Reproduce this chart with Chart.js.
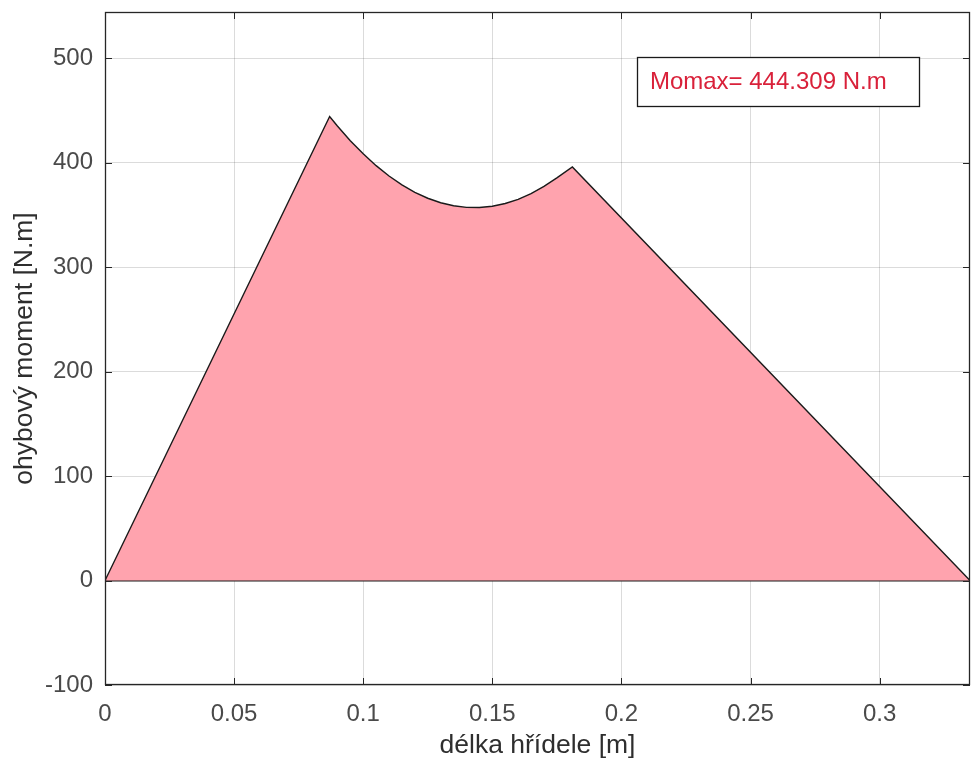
<!DOCTYPE html>
<html>
<head>
<meta charset="utf-8">
<script src="https://cdn.jsdelivr.net/npm/chart.js@4"></script>
<style>
  html, body { margin: 0; padding: 0; background: #fff; }
  #wrap { width: 971px; height: 762px; }
</style>
</head>
<body>
<div id="wrap"><canvas id="momentChart"></canvas></div>
<script>
// hodnoty
const xPos = [0, 0.087, 0.09, 0.095, 0.10, 0.105, 0.11, 0.115, 0.12, 0.125, 0.13, 0.135, 0.14, 0.145,
  0.15, 0.155, 0.16, 0.165, 0.17, 0.175, 0.181, 0.335];
const moment = [0, 444.3, 435.2, 421.1, 408.5, 397.2, 387.3, 378.8, 371.7, 366.0, 361.7, 358.8, 357.3, 357.1,
  358.4, 361.0, 365.0, 370.5, 377.3, 385.5, 396.0, 0];
const xTicks = [0, 0.05, 0.1, 0.15, 0.2, 0.25, 0.3];
const xLabels = ["0", "0.05", "0.1", "0.15", "0.2", "0.25", "0.3"];
const yTicks = [-100, 0, 100, 200, 300, 400, 500];
const momax = 444.309;

const FONT = "'Liberation Sans', Arial, sans-serif";
const GRID = "rgba(0,0,0,0.14)";

// tick marky dovnitř, rámeček a textový box
const matlabAxes = {
  id: "matlabAxes",
  afterDraw(chart) {
    const { ctx, chartArea: a, scales: { x, y } } = chart;
    ctx.save();
    ctx.strokeStyle = "#262626";
    ctx.lineWidth = 1;
    ctx.beginPath();
    xTicks.forEach(v => {
      const px = Math.round(x.getPixelForValue(v)) + 0.5;
      ctx.moveTo(px, a.bottom); ctx.lineTo(px, a.bottom - 7);
      ctx.moveTo(px, a.top); ctx.lineTo(px, a.top + 7);
    });
    yTicks.forEach(v => {
      const py = Math.round(y.getPixelForValue(v)) + 0.5;
      ctx.moveTo(a.left, py); ctx.lineTo(a.left + 7, py);
      ctx.moveTo(a.right, py); ctx.lineTo(a.right - 7, py);
    });
    ctx.stroke();
    ctx.lineWidth = 1.3;
    ctx.strokeRect(Math.round(a.left) + 0.5, Math.round(a.top) + 0.5,
      Math.round(a.right - a.left) - 1, Math.round(a.bottom - a.top) - 1);

    // Momax box
    const bx = x.getPixelForValue(0.206);
    const by = y.getPixelForValue(501);
    const bw = 282, bh = 49;
    ctx.fillStyle = "#fff";
    ctx.fillRect(bx, by, bw, bh);
    ctx.strokeStyle = "#1a1a1a";
    ctx.strokeRect(Math.round(bx) + 0.5, Math.round(by) + 0.5, bw, bh);
    ctx.fillStyle = "#d9213a";
    ctx.font = "24px " + FONT;
    ctx.textBaseline = "middle";
    ctx.fillText("Momax= " + momax + " N.m", bx + 13, by + bh / 2 + 1);
    ctx.restore();
  }
};

const zeroPadding = ax => {
  ax.paddingTop = 0; ax.paddingBottom = 0;
  ax.paddingLeft = 0; ax.paddingRight = 0;
};

new Chart(document.getElementById("momentChart"), {
  type: "line",
  data: {
    datasets: [{
      data: xPos.map((v, i) => ({ x: v, y: moment[i] })),
      borderColor: "#1a1a1a",
      borderWidth: 1.4,
      backgroundColor: "rgb(255,163,174)",
      fill: "origin",
      pointRadius: 0,
      tension: 0
    }]
  },
  options: {
    responsive: true,
    maintainAspectRatio: false,
    animation: false,
    layout: { padding: { top: 12, right: 1, left: 0, bottom: 0 } },
    plugins: { legend: { display: false }, tooltip: { enabled: false } },
    scales: {
      x: {
        type: "linear",
        min: 0,
        max: 0.335,
        z: 1,
        afterBuildTicks: ax => { ax.ticks = xTicks.map(v => ({ value: v })); },
        afterFit: ax => { ax.height = 77; zeroPadding(ax); },
        grid: { color: GRID, drawTicks: false },
        border: { display: false },
        ticks: {
          color: "#4a4a4a",
          font: { family: FONT, size: 24 },
          padding: 15,
          maxRotation: 0,
          callback: (v, i) => xLabels[i]
        },
        title: {
          display: true,
          text: "délka hřídele [m]",
          color: "#2e2e2e",
          font: { family: FONT, size: 26.5 },
          padding: { top: 0, bottom: 0 }
        }
      },
      y: {
        type: "linear",
        min: -100,
        max: momax + 100,
        z: 1,
        afterBuildTicks: ax => { ax.ticks = yTicks.map(v => ({ value: v })); },
        afterFit: ax => { ax.width = 105; zeroPadding(ax); },
        grid: {
          color: c => (c.tick && c.tick.value === 0 ? "#1a1a1a" : GRID),
          lineWidth: c => (c.tick && c.tick.value === 0 ? 1.4 : 1),
          drawTicks: false
        },
        border: { display: false },
        ticks: {
          color: "#4a4a4a",
          font: { family: FONT, size: 24 },
          padding: 12
        },
        title: {
          display: true,
          text: "ohybový moment [N.m]",
          color: "#2e2e2e",
          font: { family: FONT, size: 26.5 },
          padding: { top: 9, bottom: 0 }
        }
      }
    }
  },
  plugins: [matlabAxes]
});
</script>
</body>
</html>
